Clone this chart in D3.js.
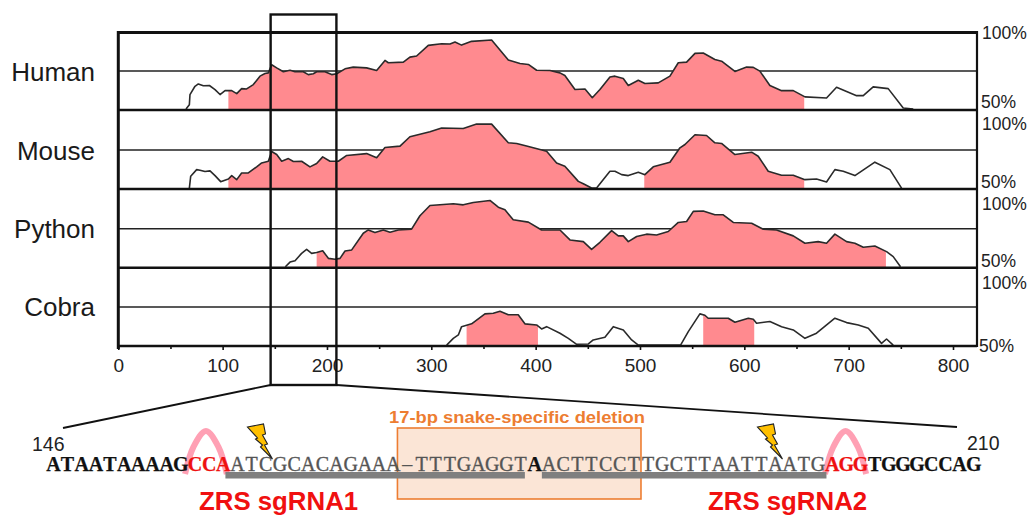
<!DOCTYPE html>
<html lang="en">
<head>
<meta charset="UTF-8"/>
<title>ZRS conservation</title>
<style>
  * { margin: 0; padding: 0; }
  body { background: #fff; overflow: hidden; }
  svg { display: block; }
  text { font-family: "Liberation Sans", Arial, sans-serif; }
</style>
</head>
<body>
<div id="chart"></div>
<script src="https://cdn.jsdelivr.net/npm/d3@7/dist/d3.min.js"></script>
<script>
// --- data: position (bp) and conservation (%) ---
const species = ['Human', 'Mouse', 'Python', 'Cobra']

const humanX = [64.9,68.1,68.7,73.5,76.7,81.5,87.3,92.7,97.5,102.3,108.7,113.5,118.2,123,129.4,135.8,140.6,143.8,147,151.8,158.2,164.6,169.4,177.3,182.1,186.9,190.1,198.1,204.5,209.3,217.3,225.2,238,247.6,255.6,258.8,273.2,279.5,285.9,297.1,309.9,317.9,322.7,329,338.6,357.8,373.8,385,393,400.9,413.7,423.3,428,437.7,447.3,454.3,461.6,471.2,476,484,488.8,498.4,504.7,517.5,528.7,536.7,544.7,552.7,560.6,571.8,578.2,591,602.2,608.6,614.9,624.5,635.7,646.9,658.1,678.8,688.4,707.6,714,723.5,737.9,752.3,761.9]
const humanY = [50.6,53.4,59.9,65.2,66.7,65.5,65.7,63.1,59.9,62.4,62.4,60.5,63.7,63.5,66.3,71.7,73.4,73.8,79,77,74.5,75.5,74.5,74.5,72.7,73.2,74.5,74.5,72.7,73.2,76.4,77.5,77,75.3,81.8,80.3,80.7,83.9,84.6,91.4,92.5,92.3,93.6,91.6,94,94.9,82,79.8,79.2,75.5,75.3,73.8,72.1,63.1,63.5,57.9,63.1,71.2,71.7,70.2,65.7,69.1,67,67.4,71.7,80.3,80.7,86.3,86.5,82.4,81.3,74.7,77.5,77.3,74.9,65.7,62.4,62.4,58.4,57.7,64.6,59.2,59.2,64.8,63.7,51.3,50.6]

const mouseX = [68.1,69.4,75.1,78.3,83.1,87.9,92.7,98.1,105.5,108.7,113.5,118.2,124.6,132.6,137.4,143.8,147,151.8,156.6,163,167.8,175.7,183.7,190.1,195.9,202.9,210.9,218.9,238,247.6,255.6,270,279.5,298.7,309.9,330.6,343.4,357.8,373.8,381.8,391.3,410.5,420.1,428,440.9,445.7,453.6,458.4,471.2,476,482.4,488.8,498.4,504.7,512.7,528.7,538.3,543.1,552.7,563.8,571.8,578.2,591,607,613.3,622.9,635.7,646.9,658.1,669.2,678.8,686.8,694.8,706,725.1,739.5,750.7]
const mouseY = [50.6,58.2,62.4,62,61.2,61.6,58.6,54.7,56.4,58.6,56,60.3,60.3,64.2,66.7,67.8,74,72.1,67.8,69.5,67.6,67.8,64.2,66.3,70.6,67.8,67.8,71.5,72.7,70,76.6,77.5,83.5,86.7,89.1,88.8,91.6,91.6,79.6,79.2,77.5,74.2,66.7,64.6,54.9,53.4,50.6,50.6,61.4,61.4,59.2,58.6,60.7,59.2,64.2,67.2,76.4,78.5,84.8,84.3,79.6,79.2,72.1,73.6,71,61.4,58.8,58.8,56,56.4,54.5,62.4,61.4,58.6,67.2,62.4,50.6]

const pythonX = [160.1,164.6,169.4,175.7,180.5,185.3,190.1,195.9,201.3,207.7,212.5,217.3,223.7,234.8,239.6,246,254,260.4,268.4,281.1,289.1,298.7,321.1,330.6,340.2,356.2,364.2,370.6,378.5,393,405.7,423.3,432.9,445.7,453.6,461.6,472.8,479.2,484,488.8,496.8,506.3,515.9,527.1,536.7,544.7,551.1,560.6,571.8,579.8,589.4,607,618.1,630.9,646.9,658.1,670.8,678.8,686.8,698,706,714,725.1,736.3,742.7,749.7]
const pythonY = [50.6,53.6,54.5,59.2,61.8,59.2,59.7,60.9,56,55.4,56,60.7,61.4,72.1,74.2,72.5,74.2,72.7,74.2,74.7,83.3,89.9,91,90.3,91.8,93.1,88.8,87.1,80.7,79.2,74.2,74.2,67.8,66.7,61.8,66.3,73.8,70.4,70.4,66.7,70,71.5,71,73.2,79,79.6,86.1,86.3,83.9,83.9,79,78.5,74.7,74.2,70.4,65.7,66.7,65.7,71.5,66.7,65.7,63.1,63.9,60.3,57.1,50.6]

const cobraX = [314.7,321.1,325.9,329,338.6,351.4,359.4,365.8,373.8,383.3,389.7,400.9,405.7,410.5,423.3,431.3,439.3,450.5,455.2,466.4,474.4,484,492,498.4,538.9,546.3,557.4,562.2,565.4,584.6,591,603.8,608.6,611.7,624.5,635.7,646.9,658.1,669.2,686.8,698,709.2,718.8,731.5,736.3,742.7]
const cobraY = [50.6,54.9,57.1,62.4,64.2,70.6,71,72.3,70,70,64.2,63.5,60.9,62.4,58.2,54.9,51.1,51.3,53.9,55.6,62.4,60.3,53.9,50.6,50.6,59.2,70.6,69.7,67.8,67.8,65.2,67.8,67.2,64.6,65.7,62.4,60.3,54.9,58.2,67.8,65,63.5,61.4,51.7,54.5,50.6]

const seriesX = [humanX, mouseX, pythonX, cobraX]
const seriesY = [humanY, mouseY, pythonY, cobraY]

// conserved stretches, shaded pink [from, to]
const humanPink  = [[105.5, 657.4]]
const mousePink  = [[105.5, 455], [504.1, 657.4]]
const pythonPink = [[190.1, 735.7]]
const cobraPink  = [[333.8, 402.2], [560.6, 609.5]]
const pinkRanges = [humanPink, mousePink, pythonPink, cobraPink]

const majorTicks = [0, 100, 200, 300, 400, 500, 600, 700, 800]
const minorTicks = [50, 150, 250, 350, 450, 550, 650, 750]
const zoomRange  = [146, 210]

// sequence below the plot, cut into runs of the same style
const seqRuns   = ['ATAATAAAAG', 'CCA', 'ATCGCACAGAAA-TTTGAGGT', 'A', 'ACTTCCTTGCTTAATTAATG', 'AGG', 'TGGGCCAG']
const seqStyles = ['flank', 'pam', 'guide', 'flank', 'guide', 'pam', 'flank']
const guideBars = [[12.65, 33.8], [35, 55.1]]  // in base index
const pamArches = [[9.8, 12.75], [55, 57.9]]
const deletion  = [24.8, 42]

// --- layout ---
const W = 1031, H = 519
const svg = d3.select('#chart').append('svg').attr('width', W).attr('height', H)

const x = d3.scaleLinear().domain([0, 800]).range([118.3, 953])
const plotRight = 977
const panelBase = [110, 189, 267.7, 346]
const panelH    = 78
const labelBase = [81, 160, 238, 316]
const pctTop    = [39, 130, 210, 289]
const pctBottom = [108, 188, 267, 352]

const pink = '#ff8a8f', ink = '#111'

const defs = svg.append('defs')

species.forEach((name, i) => {
  const y = d3.scaleLinear().domain([50, 100]).range([panelBase[i], panelBase[i] - panelH])
  const pts = d3.zip(seriesX[i], seriesY[i])
  const g = svg.append('g')

  // 75% line sits under the fill
  g.append('line')
    .attr('x1', x(0)).attr('x2', plotRight)
    .attr('y1', y(75)).attr('y2', y(75))
    .attr('stroke', '#222').attr('stroke-width', 1.6)

  defs.append('clipPath').attr('id', `clip-${i}`)
    .selectAll('rect').data(pinkRanges[i]).join('rect')
    .attr('x', d => x(d[0])).attr('width', d => x(d[1]) - x(d[0]))
    .attr('y', y(100)).attr('height', panelH)

  g.append('path').datum(pts)
    .attr('clip-path', `url(#clip-${i})`)
    .attr('fill', pink)
    .attr('d', d3.area().x(d => x(d[0])).y0(y(50)).y1(d => y(d[1])))

  g.append('path').datum(pts)
    .attr('fill', 'none').attr('stroke', '#2a2a2a').attr('stroke-width', 1.6)
    .attr('stroke-linejoin', 'round')
    .attr('d', d3.line().x(d => x(d[0])).y(d => y(d[1])))

  // baseline of the panel
  g.append('line')
    .attr('x1', x(0)).attr('x2', plotRight)
    .attr('y1', y(50)).attr('y2', y(50))
    .attr('stroke', ink).attr('stroke-width', 2.6)

  svg.append('text').text(name)
    .attr('x', 95).attr('y', labelBase[i])
    .attr('text-anchor', 'end')
    .attr('font-size', 26).attr('fill', '#1a1a1a')

  svg.append('text').text('100%')
    .attr('x', 982).attr('y', pctTop[i])
    .attr('font-size', 17.5).attr('fill', '#222')
  svg.append('text').text('50%')
    .attr('x', i === 3 ? 979 : 981).attr('y', pctBottom[i])
    .attr('font-size', 17.5).attr('fill', '#222')
})

// frame
svg.append('line').attr('x1', x(0)).attr('x2', plotRight).attr('y1', 32.5).attr('y2', 32.5)
  .attr('stroke', ink).attr('stroke-width', 3)
svg.append('line').attr('x1', x(0)).attr('x2', x(0)).attr('y1', 31).attr('y2', panelBase[3] + 3)
  .attr('stroke', ink).attr('stroke-width', 3)
svg.append('line').attr('x1', plotRight).attr('x2', plotRight).attr('y1', 31).attr('y2', panelBase[3] + 1)
  .attr('stroke', ink).attr('stroke-width', 2.2)

// x axis
const axis = svg.append('g').attr('transform', `translate(0,${panelBase[3]})`)
  .call(d3.axisBottom(x).tickValues(majorTicks).tickSize(4).tickPadding(9).tickFormat(d3.format('d')))
axis.select('.domain').remove()
axis.selectAll('line').attr('stroke', ink).attr('stroke-width', 1.6)
axis.selectAll('text').attr('font-size', 19).attr('fill', '#222')
  .attr('font-family', '"Liberation Sans", Arial, sans-serif')
const axisMinor = svg.append('g').attr('transform', `translate(0,${panelBase[3]})`)
  .call(d3.axisBottom(x).tickValues(minorTicks).tickSize(3).tickFormat(''))
axisMinor.select('.domain').remove()
axisMinor.selectAll('line').attr('stroke', ink).attr('stroke-width', 1.6)

// zoom box and the two lines leading to the sequence
const boxTop = 14.5, boxBottom = 385
svg.append('rect')
  .attr('x', x(zoomRange[0])).attr('width', x(zoomRange[1]) - x(zoomRange[0]) - 1)
  .attr('y', boxTop).attr('height', boxBottom - boxTop)
  .attr('fill', 'none').attr('stroke', ink).attr('stroke-width', 2.4)
svg.append('line').attr('x1', x(zoomRange[0])).attr('y1', boxBottom).attr('x2', 63).attr('y2', 428)
  .attr('stroke', ink).attr('stroke-width', 1.8)
svg.append('line').attr('x1', x(zoomRange[1]) - 1).attr('y1', boxBottom).attr('x2', 957).attr('y2', 427)
  .attr('stroke', ink).attr('stroke-width', 1.8)

// --- sequence row ---
const baseCount = d3.sum(seqRuns, d => d.length)
const bx = d3.scaleLinear().domain([0, baseCount]).range([46.3, 980.8])
const seqBase = 470.5

// deletion box
svg.append('rect')
  .attr('x', bx(deletion[0])).attr('width', bx(deletion[1]) - bx(deletion[0]))
  .attr('y', 428).attr('height', 71)
  .attr('fill', '#fbe5d6').attr('stroke', '#ed7d31').attr('stroke-width', 1.6)
svg.append('text').text('17-bp snake-specific deletion')
  .attr('x', 389).attr('y', 423)
  .attr('textLength', 256).attr('lengthAdjust', 'spacingAndGlyphs')
  .attr('font-size', 17).attr('font-weight', 'bold').attr('fill', '#ed7d31')

// PAM arches
const archLine = d3.line().x(d => d[0]).y(d => d[1]).curve(d3.curveCatmullRom.alpha(0.5))
svg.selectAll('.arch').data(pamArches).join('path')
  .attr('class', 'arch')
  .attr('fill', 'none').attr('stroke', '#ffa0b4').attr('stroke-width', 6)
  .attr('d', d => {
    const a = bx(d[0]), b = bx(d[1]), m = (a + b) / 2, w = b - a
    return archLine([[a, 474], [a + w * 0.2, 447], [m, 431], [b - w * 0.2, 447], [b, 474]])
  })

// guide bars
svg.selectAll('.guide').data(guideBars).join('rect')
  .attr('class', 'guide')
  .attr('x', d => bx(d[0])).attr('width', d => bx(d[1]) - bx(d[0]))
  .attr('y', 472).attr('height', 6.5)
  .attr('fill', '#7f7f7f')

// one text per base so the letters sit on the base scale
const styleFill = { flank: '#111', pam: '#ee1111', guide: '#555' }
const letters = seqRuns.flatMap((run, i) => run.split('').map(c => ({ c, style: seqStyles[i] })))
svg.selectAll('.base').data(letters).join('text')
  .attr('class', 'base')
  .attr('x', (d, i) => bx(i + 0.5)).attr('y', seqBase)
  .attr('text-anchor', 'middle')
  .attr('font-size', 20)
  .style('font-family', '"Liberation Serif", serif')
  .attr('font-weight', d => d.style === 'guide' ? 'normal' : 'bold')
  .attr('fill', d => styleFill[d.style])
  .attr('stroke', d => styleFill[d.style])
  .attr('stroke-width', d => d.style === 'guide' ? 0.35 : 0.25)
  .text(d => d.c === '-' ? '–' : d.c)

// cut-site bolts, drawn relative to their tip
const boltShape = [[-25,-32],[-9,-35],[-7,-25],[-10,-24],[-5,-15],[-8,-14],[0,0],[-12,-12],[-10,-14],[-17,-20],[-15,-21]]
const boltTips = [272.5, 782.5]
svg.selectAll('.bolt').data(boltTips).join('path')
  .attr('class', 'bolt')
  .attr('transform', d => `translate(${d},459)`)
  .attr('d', d3.line()(boltShape) + 'Z')
  .attr('fill', '#ffc000').attr('stroke', '#222').attr('stroke-width', 1.1)

svg.append('text').text('146').attr('x', 32).attr('y', 451).attr('font-size', 19.5).attr('fill', '#222')
svg.append('text').text('210').attr('x', 967).attr('y', 450).attr('font-size', 19.5).attr('fill', '#222')

svg.append('text').text('ZRS sgRNA1').attr('x', 199).attr('y', 510)
  .attr('font-size', 25.8).attr('font-weight', 'bold').attr('fill', '#f01010')
svg.append('text').text('ZRS sgRNA2').attr('x', 708).attr('y', 510)
  .attr('font-size', 25.8).attr('font-weight', 'bold').attr('fill', '#f01010')
</script>
</body>
</html>
